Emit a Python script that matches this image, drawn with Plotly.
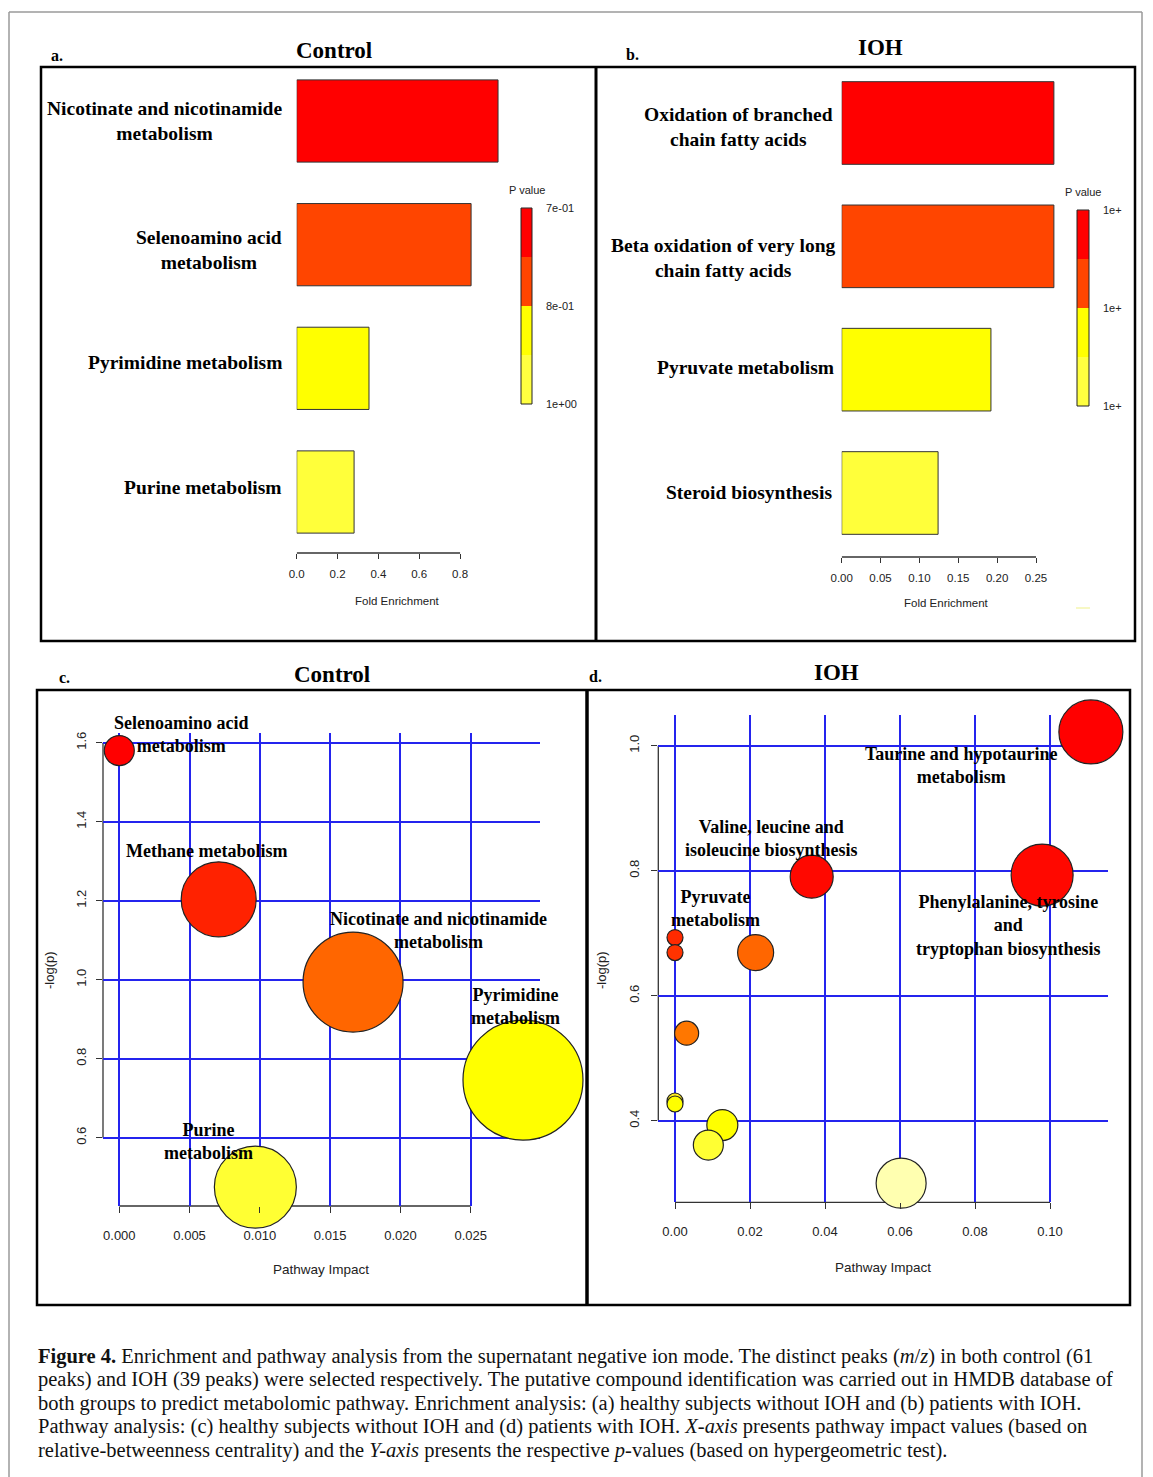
import plotly.graph_objects as go

W, H = 1153, 1477

# ---------------- DATA ----------------
# Panel a (Control enrichment)
a_categories = ["Nicotinate and nicotinamide<br>metabolism", "Selenoamino acid<br>metabolism",
                "Pyrimidine metabolism", "Purine metabolism"]
a_fold = [0.986, 0.854, 0.354, 0.281]
a_colors = ["#FF0000", "#FF4500", "#FFFF00", "#FFFF3A"]
a_ticks = [0.0, 0.2, 0.4, 0.6, 0.8]
a_ticktext = ["0.0", "0.2", "0.4", "0.6", "0.8"]
a_cb_colors = ["#FFFF40", "#FFFF00", "#FF4500", "#FF0000"]   # bottom -> top
a_cb_labels = ["1e+00", "8e-01", "7e-01"]

# Panel b (IOH enrichment)
b_categories = ["Oxidation of branched<br>chain fatty acids", "Beta oxidation of very long<br>chain fatty acids",
                "Pyruvate metabolism", "Steroid biosynthesis"]
b_fold = [0.273, 0.273, 0.192, 0.124]
b_colors = ["#FF0000", "#FF4500", "#FFFF00", "#FFFF3A"]
b_ticks = [0.00, 0.05, 0.10, 0.15, 0.20, 0.25]
b_ticktext = ["0.00", "0.05", "0.10", "0.15", "0.20", "0.25"]
b_cb_colors = ["#FFFF40", "#FFFF00", "#FF4500", "#FF0000"]
b_cb_labels = ["1e+", "1e+", "1e+"]

# Panel c (Control pathway)
c_names = ["Selenoamino acid metabolism", "Methane metabolism", "Nicotinate and nicotinamide metabolism",
           "Pyrimidine metabolism", "Purine metabolism"]
c_impact = [0.0, 0.00707, 0.01663, 0.02872, 0.00968]
c_logp = [1.580, 1.2035, 0.994, 0.746, 0.475]
c_size = [30, 75, 100, 120, 82]
c_colors = ["#FF0000", "#FF2200", "#FF6600", "#FFFF00", "#FFFF33"]
c_xticks = [0.000, 0.005, 0.010, 0.015, 0.020, 0.025]
c_xticktext = ["0.000", "0.005", "0.010", "0.015", "0.020", "0.025"]
c_yticks = [0.6, 0.8, 1.0, 1.2, 1.4, 1.6]
c_yticktext = ["0.6", "0.8", "1.0", "1.2", "1.4", "1.6"]

# Panel d (IOH pathway)
d_impact = [0.1109, 0.0979, 0.03645, 0.0, 0.0, 0.0215, 0.0031, 0.0, 0.0, 0.01262, 0.00889, 0.0603]
d_logp = [1.022, 0.793, 0.7904, 0.693, 0.669, 0.669, 0.540, 0.4315, 0.4267, 0.393, 0.361, 0.300]
d_size = [64, 62, 43, 16, 16, 36, 24, 16, 16, 31, 30, 50]
d_colors = ["#FF0000", "#FF0800", "#FF0800", "#FF2A00", "#FF3300", "#FF6600", "#FF7700",
            "#FFEE22", "#FFFF00", "#FFFF00", "#FFFF33", "#FFFFB0"]
d_xticks = [0.00, 0.02, 0.04, 0.06, 0.08, 0.10]
d_xticktext = ["0.00", "0.02", "0.04", "0.06", "0.08", "0.10"]
d_yticks = [0.4, 0.6, 0.8, 1.0]
d_yticktext = ["0.4", "0.6", "0.8", "1.0"]

caption_lines = [
    "<b>Figure 4.</b> Enrichment and pathway analysis from the supernatant negative ion mode. The distinct peaks (<i>m</i>/<i>z</i>) in both control (61",
    "peaks) and IOH (39 peaks) were selected respectively. The putative compound identification was carried out in HMDB database of",
    "both groups to predict metabolomic pathway. Enrichment analysis: (a) healthy subjects without IOH and (b) patients with IOH.",
    "Pathway analysis: (c) healthy subjects without IOH and (d) patients with IOH. <i>X-axis</i> presents pathway impact values (based on",
    "relative-betweenness centrality) and the <i>Y-axis</i> presents the respective <i>p</i>-values (based on hypergeometric test).",
]

# ---------------- helpers ----------------
def px(x):
    return x / W

def py(y):
    return 1 - y / H

SERIF = "Liberation Serif"
SANS = "Liberation Sans"
OUT = "#222222"
GRID = "#2424EE"

fig = go.Figure()

# Bars
fig.add_trace(go.Bar(x=a_fold, y=a_categories, orientation="h", width=0.665,
                     marker=dict(color=a_colors, line=dict(color="#333333", width=1)),
                     xaxis="x", yaxis="y", showlegend=False, hoverinfo="x+y"))
fig.add_trace(go.Bar(x=b_fold, y=b_categories, orientation="h", width=0.67,
                     marker=dict(color=b_colors, line=dict(color="#333333", width=1)),
                     xaxis="x2", yaxis="y2", showlegend=False, hoverinfo="x+y"))

# Bubbles
fig.add_trace(go.Scatter(x=c_impact, y=c_logp, mode="markers", text=c_names, cliponaxis=False,
                         marker=dict(size=c_size, sizemode="diameter", color=c_colors, opacity=1,
                                     line=dict(color=OUT, width=1.2)),
                         xaxis="x3", yaxis="y3", showlegend=False))
fig.add_trace(go.Scatter(x=d_impact, y=d_logp, mode="markers", cliponaxis=False,
                         marker=dict(size=d_size, sizemode="diameter", color=d_colors, opacity=1,
                                     line=dict(color=OUT, width=1.2)),
                         xaxis="x4", yaxis="y4", showlegend=False))

# Color legends (discrete bars)
def cb_scale(cols):
    n = len(cols) - 1
    return [[i / n, c] for i, c in enumerate(cols)]

fig.add_trace(go.Heatmap(z=[[i] for i in range(len(a_cb_colors))], x=[0], y=list(range(len(a_cb_colors))),
                         colorscale=cb_scale(a_cb_colors), zmin=0, zmax=len(a_cb_colors) - 1,
                         showscale=False, xaxis="x5", yaxis="y5", hoverinfo="skip"))
fig.add_trace(go.Heatmap(z=[[i] for i in range(len(b_cb_colors))], x=[0], y=list(range(len(b_cb_colors))),
                         colorscale=cb_scale(b_cb_colors), zmin=0, zmax=len(b_cb_colors) - 1,
                         showscale=False, xaxis="x6", yaxis="y6", hoverinfo="skip"))

tickfont_ab = dict(family=SANS, size=11.5, color="#222")
tickfont_cd = dict(family=SANS, size=13, color="#222")

# Panel a axes
a_sp = (492 - 121) / 3
fig.update_layout(
    xaxis=dict(domain=[px(296.7), px(545)], range=[0, (545 - 296.7) / 204.2], anchor="y",
               tickvals=a_ticks, ticktext=a_ticktext, ticks="outside", ticklen=5, tickcolor="#333",
               showline=False, showgrid=False, zeroline=False, tickfont=tickfont_ab, ticklabelstandoff=5),
    yaxis=dict(domain=[py(553), py(67)], anchor="x", type="category",
               categoryorder="array", categoryarray=a_categories[::-1],
               range=[-(553 - 492) / a_sp, 3 + (121 - 67) / a_sp],
               showticklabels=False, ticks="", showgrid=False, zeroline=False, showline=False),
)
b_sp = (493 - 123) / 3
fig.update_layout(
    xaxis2=dict(domain=[px(841.7), px(1070)], range=[0, (1070 - 841.7) / 777.3], anchor="y2",
                tickvals=b_ticks, ticktext=b_ticktext, ticks="outside", ticklen=5, tickcolor="#333",
                showline=False, showgrid=False, zeroline=False, tickfont=tickfont_ab, ticklabelstandoff=5),
    yaxis2=dict(domain=[py(557), py(67)], anchor="x2", type="category",
                categoryorder="array", categoryarray=b_categories[::-1],
                range=[-(557 - 493) / b_sp, 3 + (123 - 67) / b_sp],
                showticklabels=False, ticks="", showgrid=False, zeroline=False, showline=False),
)

# Panel c axes
cx = 14056.0
cy = 395.0
fig.update_layout(
    xaxis3=dict(domain=[px(103), px(540)], range=[-(119.3 - 103) / cx, (540 - 119.3) / cx], anchor="y3",
                tickvals=c_xticks, ticktext=c_xticktext, ticks="outside", ticklen=6, tickcolor="#333",
                showgrid=True, gridcolor=GRID, gridwidth=1.5, showline=False, zeroline=False,
                tickfont=tickfont_cd, ticklabelstandoff=11),
    yaxis3=dict(domain=[py(1206), py(733)], range=[1.6 - (1206 - 742.7) / cy, 1.6 + (742.7 - 733) / cy],
                anchor="x3", tickvals=c_yticks, ticktext=c_yticktext, ticks="outside", ticklen=6,
                tickcolor="#333", tickangle=-90, showgrid=True, gridcolor=GRID, gridwidth=1.5,
                showline=False, zeroline=False, tickfont=tickfont_cd, ticklabelstandoff=5),
)
dx = 3750.0
dy = 625.0
fig.update_layout(
    xaxis4=dict(domain=[px(658.3), px(1108)], range=[-(675 - 658.3) / dx, (1108 - 675) / dx], anchor="y4",
                tickvals=d_xticks, ticktext=d_xticktext, ticks="outside", ticklen=6, tickcolor="#333",
                showgrid=True, gridcolor=GRID, gridwidth=1.5, showline=False, zeroline=False,
                tickfont=tickfont_cd, ticklabelstandoff=11),
    yaxis4=dict(domain=[py(1202.3), py(715)], range=[1.0 - (1202.3 - 745.7) / dy, 1.0 + (745.7 - 715) / dy],
                anchor="x4", tickvals=d_yticks, ticktext=d_yticktext, ticks="outside", ticklen=6,
                tickcolor="#333", tickangle=-90, showgrid=True, gridcolor=GRID, gridwidth=1.5,
                showline=False, zeroline=False, tickfont=tickfont_cd, ticklabelstandoff=7),
)

# Legend bar axes
cbfont = dict(family=SANS, size=11, color="#222")
fig.update_layout(
    xaxis5=dict(domain=[px(521), px(532)], range=[-0.5, 0.5], visible=False, anchor="y5"),
    yaxis5=dict(domain=[py(404), py(208)], range=[-0.502, 3.502], anchor="x5", side="right",
                tickvals=[-0.5, 1.5, 3.5], ticktext=a_cb_labels, ticks="", showgrid=False,
                zeroline=False, showline=False, tickfont=cbfont, ticklabelstandoff=13),
    xaxis6=dict(domain=[px(1077), px(1089)], range=[-0.5, 0.5], visible=False, anchor="y6"),
    yaxis6=dict(domain=[py(406), py(210)], range=[-0.502, 3.502], anchor="x6", side="right",
                tickvals=[-0.5, 1.5, 3.5], ticktext=b_cb_labels, ticks="", showgrid=False,
                zeroline=False, showline=False, tickfont=cbfont, ticklabelstandoff=13),
)

shapes = []
# axis lines (R style, spanning tick range)
AX = dict(color="#333333", width=1.3)
shapes += [
    dict(type="line", xref="x", yref="y domain", x0=a_ticks[0], x1=a_ticks[-1], y0=0, y1=0, line=AX, layer="below"),
    dict(type="line", xref="x2", yref="y2 domain", x0=b_ticks[0], x1=b_ticks[-1], y0=0, y1=0, line=AX, layer="below"),
    dict(type="line", xref="x3", yref="y3 domain", x0=c_xticks[0], x1=c_xticks[-1], y0=0, y1=0, line=AX, layer="below"),
    dict(type="line", xref="x3 domain", yref="y3", x0=0, x1=0, y0=c_yticks[0], y1=c_yticks[-1], line=AX, layer="below"),
    dict(type="line", xref="x4", yref="y4 domain", x0=d_xticks[0], x1=d_xticks[-1], y0=0, y1=0, line=AX, layer="below"),
    dict(type="line", xref="x4 domain", yref="y4", x0=0, x1=0, y0=d_yticks[0], y1=d_yticks[-1], line=AX, layer="below"),
    dict(type="rect", xref="x5 domain", yref="y5 domain", x0=0, x1=1, y0=0, y1=1, line=dict(color="#222", width=1)),
    dict(type="rect", xref="x6 domain", yref="y6 domain", x0=0, x1=1, y0=0, y1=1, line=dict(color="#222", width=1)),
]
# frames
def pline(x0, y0, x1, y1, color="black", width=2.5):
    return dict(type="line", xref="paper", yref="paper", x0=px(x0), y0=py(y0), x1=px(x1), y1=py(y1),
                line=dict(color=color, width=width))

shapes += [
    pline(9, 12, 1142, 12, "#9a9a9a", 1.5),
    pline(9, 12, 9, 1477, "#9a9a9a", 1.5),
    pline(1142, 12, 1142, 1477, "#9a9a9a", 1.5),
    dict(type="rect", xref="paper", yref="paper", x0=px(41), x1=px(1135), y0=py(641), y1=py(67),
         line=dict(color="black", width=2.5)),
    pline(596, 67, 596, 641, "black", 3),
    dict(type="rect", xref="paper", yref="paper", x0=px(37), x1=px(1130), y0=py(1305), y1=py(690),
         line=dict(color="black", width=2.5)),
    pline(587, 690, 587, 1305, "black", 3.5),
    pline(1076, 608, 1090, 608, "#F4F6B0", 1.5),
]

ann = []
def txt(x, y, s, size=18, family=SERIF, bold=True, xanchor="center", align="center", angle=0, color="black"):
    ann.append(dict(x=px(x), y=py(y), xref="paper", yref="paper", text=("<b>%s</b>" % s) if bold else s,
                    showarrow=False, xanchor=xanchor, yanchor="middle", align=align, textangle=angle,
                    font=dict(family=family, size=size, color=color)))

# titles
txt(57, 55, "a.", size=16)
txt(334, 50, "Control", size=23)
txt(632, 54, "b.", size=16)
txt(880, 48, "IOH", size=23)
txt(64, 678, "c.", size=16)
txt(332, 674, "Control", size=23)
txt(595, 676, "d.", size=16)
txt(836, 672, "IOH", size=23)

# bar category labels
a_label_y = [121, 250, 362, 487]
for lab, yy in zip(a_categories, a_label_y):
    txt(284, yy, lab, size=19.5, xanchor="right")
b_label_y = [127, 258, 368, 493]
b_label_x = [835, 837, 836, 834]
for lab, xx, yy in zip(b_categories, b_label_x, b_label_y):
    txt(xx, yy, lab, size=19.5, xanchor="right")

# legend titles & axis titles
txt(527, 190, "P value", size=11, family=SANS, bold=False, color="#222")
txt(1083, 192, "P value", size=11, family=SANS, bold=False, color="#222")
txt(397, 601, "Fold Enrichment", size=11.5, family=SANS, bold=False, color="#222")
txt(946, 603, "Fold Enrichment", size=11.5, family=SANS, bold=False, color="#222")
txt(321, 1269, "Pathway Impact", size=13.5, family=SANS, bold=False, color="#222")
txt(883, 1267, "Pathway Impact", size=13.5, family=SANS, bold=False, color="#222")
txt(50, 970, "-log(p)", size=13, family=SANS, bold=False, angle=-90, color="#222")
txt(602, 970, "-log(p)", size=13, family=SANS, bold=False, angle=-90, color="#222")

# bubble labels
txt(181, 734, "Selenoamino acid<br>metabolism")
txt(206, 851, "Methane metabolism")
txt(438, 930, "Nicotinate and nicotinamide<br>metabolism")
txt(515, 1006, "Pyrimidine<br>metabolism")
txt(208, 1141, "Purine<br>metabolism")
txt(961, 765, "Taurine and hypotaurine<br>metabolism")
txt(771, 838, "Valine, leucine and<br>isoleucine biosynthesis")
txt(715, 908, "Pyruvate<br>metabolism")
txt(1008, 925, "Phenylalanine, tyrosine<br>and<br>tryptophan biosynthesis")

# caption
cap_y = [1356, 1379, 1403, 1426, 1450]
for line, yy in zip(caption_lines, cap_y):
    ann.append(dict(x=px(36), y=py(yy), xref="paper", yref="paper", text=line, showarrow=False,
                    xanchor="left", yanchor="middle", align="left",
                    font=dict(family=SERIF, size=20.5, color="#111")))

fig.update_layout(width=W, height=H, margin=dict(l=0, r=0, t=0, b=0, pad=0, autoexpand=False),
                  paper_bgcolor="white", plot_bgcolor="rgba(0,0,0,0)",
                  shapes=shapes, annotations=ann, showlegend=False, bargap=0.3)

fig.write_html("out.html", config={"displayModeBar": False},
               post_script="document.body.style.margin='0px';document.body.style.overflow='hidden';")
